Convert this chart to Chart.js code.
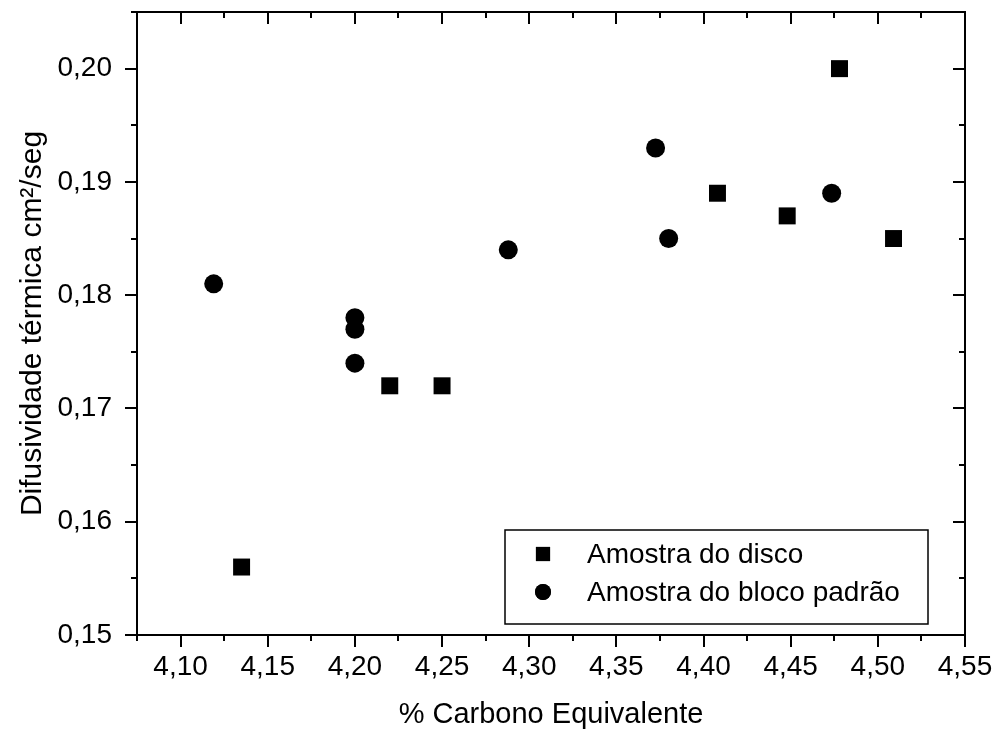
<!DOCTYPE html>
<html>
<head>
<meta charset="utf-8">
<script src="https://cdn.jsdelivr.net/npm/chart.js@4"></script>
<style>
  body { margin: 0; background: #fff; }
  #chart { display: block; }
</style>
</head>
<body>
<canvas id="chart" width="998" height="733"></canvas>
<script>
// data
const discoX = [4.135, 4.22, 4.25, 4.408, 4.448, 4.478, 4.509];
const discoY = [0.156, 0.172, 0.172, 0.189, 0.187, 0.200, 0.185];
const blocoX = [4.119, 4.20, 4.20, 4.20, 4.288, 4.3725, 4.38, 4.4735];
const blocoY = [0.181, 0.178, 0.177, 0.174, 0.184, 0.193, 0.185, 0.189];

const xTicks = [4.10, 4.15, 4.20, 4.25, 4.30, 4.35, 4.40, 4.45, 4.50, 4.55];
const xMinor = [4.075, 4.125, 4.175, 4.225, 4.275, 4.325, 4.375, 4.425, 4.475, 4.525];
const yTicks = [0.15, 0.16, 0.17, 0.18, 0.19, 0.20];
const yMinor = [0.155, 0.165, 0.175, 0.185, 0.195, 0.205];

const FONT = 'Arial, "Liberation Sans", sans-serif';

function toPoints(xs, ys) {
    return xs.map((x, i) => ({ x: x, y: ys[i] }));
}

function comma(v, d) {
    return v.toFixed(d).replace('.', ',');
}

/**
 * Box round the plot, with ticks out on bottom/left and in on top/right
 */
const framePlugin = {
    id: 'frame',
    afterDraw(chart) {
        const ctx = chart.ctx;
        const a = chart.chartArea;
        const sx = chart.scales.x;
        const sy = chart.scales.y;
        ctx.save();
        ctx.strokeStyle = '#000';
        ctx.lineWidth = 2;
        ctx.strokeRect(a.left, a.top, a.right - a.left, a.bottom - a.top);

        ctx.beginPath();
        const xt = (vals, len) => vals.forEach(v => {
            const px = Math.round(sx.getPixelForValue(v));
            ctx.moveTo(px, a.bottom); ctx.lineTo(px, a.bottom + len);
            ctx.moveTo(px, a.top); ctx.lineTo(px, a.top + len);
        });
        const yt = (vals, len) => vals.forEach(v => {
            const py = Math.round(sy.getPixelForValue(v));
            ctx.moveTo(a.left, py); ctx.lineTo(a.left - len, py);
            ctx.moveTo(a.right, py); ctx.lineTo(a.right - len, py);
        });
        xt(xTicks, 12); xt(xMinor, 6);
        yt(yTicks, 12); yt(yMinor, 6);
        ctx.stroke();
        ctx.restore();
    }
};

/**
 * Legend box inside the lower right corner of the plot
 */
const legendPlugin = {
    id: 'insideLegend',
    afterDraw(chart) {
        const ctx = chart.ctx;
        const a = chart.chartArea;
        const right = a.right - 37;
        const left = right - 423;
        const top = a.bottom - 105;
        const bottom = a.bottom - 11;
        ctx.save();
        ctx.strokeStyle = '#000';
        ctx.lineWidth = 1.5;
        ctx.strokeRect(left, top, right - left, bottom - top);

        ctx.font = '28px ' + FONT;
        ctx.fillStyle = '#000';
        ctx.textBaseline = 'middle';
        chart.data.datasets.forEach((ds, i) => {
            const y = top + 24 + i * 38;
            Chart.helpers.drawPoint(ctx, {
                pointStyle: ds.pointStyle,
                radius: ds.pointStyle === 'rect' ? 10 : 8,
                rotation: 0,
                borderWidth: 0
            }, left + 38, y);
            ctx.fillStyle = '#000';
            ctx.fill();
            ctx.fillText(ds.label, left + 82, y + 1);
        });
        ctx.restore();
    }
};

const canvas = document.getElementById('chart');
new Chart(canvas, {
    type: 'scatter',
    data: {
        datasets: [
            {
                label: 'Amostra do disco',
                data: toPoints(discoX, discoY),
                pointStyle: 'rect',
                pointRadius: 12,
                pointHoverRadius: 12,
                backgroundColor: '#000',
                borderColor: '#000',
                borderWidth: 0
            },
            {
                label: 'Amostra do bloco padrão',
                data: toPoints(blocoX, blocoY),
                pointStyle: 'circle',
                pointRadius: 9.5,
                pointHoverRadius: 9.5,
                backgroundColor: '#000',
                borderColor: '#000',
                borderWidth: 0
            }
        ]
    },
    options: {
        responsive: false,
        animation: false,
        layout: { padding: { left: 0, top: 8, right: 33, bottom: 0 } },
        plugins: {
            legend: { display: false },
            tooltip: { enabled: false }
        },
        scales: {
            x: {
                type: 'linear',
                min: 4.075,
                max: 4.55,
                afterFit: s => {
                    s.height = 98;
                    s.paddingLeft = 0;
                    s.paddingRight = 0;
                },
                afterBuildTicks: s => { s.ticks = xTicks.map(v => ({ value: v })); },
                grid: { display: false },
                border: { display: false },
                ticks: {
                    color: '#000',
                    font: { family: FONT, size: 28 },
                    padding: 7,
                    maxRotation: 0,
                    callback: v => comma(v, 2)
                },
                title: {
                    display: true,
                    text: '% Carbono Equivalente',
                    color: '#000',
                    font: { family: FONT, size: 29 },
                    padding: { top: 0, bottom: 1 }
                }
            },
            y: {
                type: 'linear',
                min: 0.15,
                max: 0.205,
                afterFit: s => {
                    s.width = 137;
                    s.paddingTop = 0;
                    s.paddingBottom = 0;
                },
                afterBuildTicks: s => { s.ticks = yTicks.map(v => ({ value: v })); },
                grid: { display: false },
                border: { display: false },
                ticks: {
                    color: '#000',
                    font: { family: FONT, size: 28 },
                    padding: 17,
                    callback: v => comma(v, 2)
                },
                title: {
                    display: true,
                    text: 'Difusividade térmica cm²/seg',
                    color: '#000',
                    font: { family: FONT, size: 30 },
                    padding: { top: 15, bottom: 0 }
                }
            }
        }
    },
    plugins: [framePlugin, legendPlugin]
});
</script>
</body>
</html>
